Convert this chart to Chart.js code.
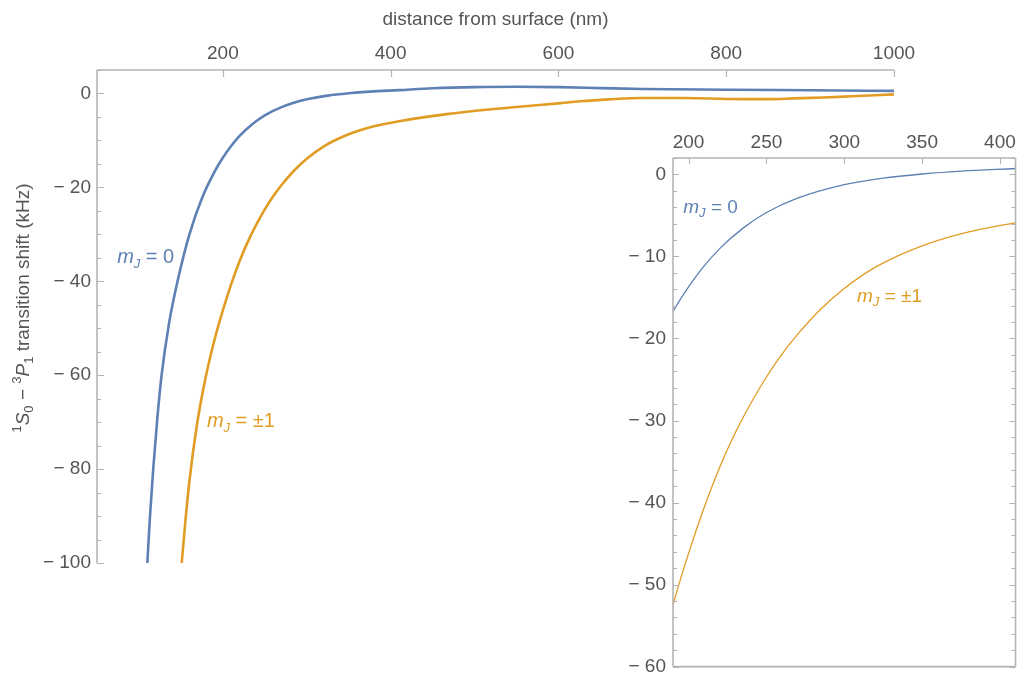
<!DOCTYPE html>
<html>
<head>
<meta charset="utf-8">
<script src="https://cdn.jsdelivr.net/npm/chart.js@4.4.1/dist/chart.umd.min.js"></script>
<style>
  html, body { margin: 0; padding: 0; background: #fff; }
  #wrap { position: relative; width: 1020px; height: 685px; overflow: hidden; }
  #main { position: absolute; left: 0; top: 0; }
  #inset { position: absolute; left: 600px; top: 110px; }
</style>
</head>
<body>
<div id="wrap">
  <canvas id="main" width="1020" height="685"></canvas>
  <canvas id="inset" width="420" height="575"></canvas>
</div>
<script>
// distance from surface (nm) and transition shift (kHz)
const distM0 = [110, 113, 117, 122, 127, 136, 146, 160, 175, 190, 200, 209, 220, 235, 250, 270, 300, 325, 350, 375, 410, 450, 500, 550, 600, 650, 700, 800, 900, 1000];
const shiftM0 = [-100, -90.5, -80, -69, -60, -48.8, -40, -30.1, -22.35, -16.7, -13.7, -11.4, -9.05, -6.55, -4.65, -2.9, -1.25, -0.45, 0.05, 0.4, 0.72, 1.1, 1.35, 1.42, 1.35, 1.15, 0.95, 0.8, 0.68, 0.55];

const distM1 = [151, 155, 160, 169, 179, 190, 200, 210, 220, 230, 240, 250, 260, 270, 285, 300, 320, 350, 380, 410, 467, 543, 600, 626, 660, 700, 750, 780, 820, 850, 880, 916, 950, 1000];
const shiftM1 = [-100, -91.8, -82.8, -70.7, -60.9, -52.5, -46.2, -40.6, -35.7, -31.5, -27.9, -24.7, -21.9, -19.5, -16.4, -13.9, -11.3, -8.7, -7.0, -5.9, -4.4, -3.0, -2.1, -1.65, -1.25, -0.95, -0.95, -1.07, -1.2, -1.2, -1.05, -0.86, -0.6, -0.2];

const mainXTicks = [200, 400, 600, 800, 1000];
const mainYTicks = [0, -20, -40, -60, -80, -100];
const insetXTicks = [200, 250, 300, 350, 400];
const insetYTicks = [0, -10, -20, -30, -40, -50, -60];

const BLUE = '#5E81B5';
const ORANGE = '#E19C24';
const TEXT = '#555555';
const AXIS = '#b4b4b4';
const FAMILY = "'Liberation Sans', Arial, sans-serif";

Chart.defaults.font.family = FAMILY;

const toPoints = (xs, ys) => xs.map((x, i) => ({ x: x, y: ys[i] }));
const fmt = v => (v < 0 ? '\u2212 ' + Math.abs(v) : String(v));

// axis lines + inward tick marks, Mathematica style
const frameAndTicks = {
  id: 'frameAndTicks',
  afterDraw(chart, args, o) {
    const { ctx, chartArea: a, scales } = chart;
    const sx = scales.x, sy = scales.y;
    ctx.save();
    ctx.strokeStyle = o.color;
    ctx.lineWidth = o.lineWidth;
    ctx.beginPath();
    if (o.sides.includes('top')) { ctx.moveTo(a.left, a.top); ctx.lineTo(a.right, a.top); }
    if (o.sides.includes('bottom')) { ctx.moveTo(a.left, a.bottom); ctx.lineTo(a.right, a.bottom); }
    if (o.sides.includes('left')) { ctx.moveTo(a.left, a.top); ctx.lineTo(a.left, a.bottom); }
    if (o.sides.includes('right')) { ctx.moveTo(a.right, a.top); ctx.lineTo(a.right, a.bottom); }
    ctx.stroke();

    ctx.lineWidth = o.tickWidth;
    ctx.beginPath();
    const xMarks = (vals, len) => vals.forEach(v => {
      const px = Math.round(sx.getPixelForValue(v)) + 0.5;
      o.xSides.forEach(side => {
        const y0 = side === 'top' ? a.top : a.bottom;
        const d = side === 'top' ? len : -len;
        ctx.moveTo(px, y0); ctx.lineTo(px, y0 + d);
      });
    });
    const yMarks = (vals, len) => vals.forEach(v => {
      const py = Math.round(sy.getPixelForValue(v)) + 0.5;
      o.ySides.forEach(side => {
        const x0 = side === 'left' ? a.left : a.right;
        const d = side === 'left' ? len : -len;
        ctx.moveTo(x0, py); ctx.lineTo(x0 + d, py);
      });
    });
    const minors = (scale, step, majors) => {
      const out = [];
      if (!step) return out;
      for (let v = Math.ceil(scale.min / step) * step; v <= scale.max + 1e-9; v += step) {
        if (!majors.some(m => Math.abs(m - v) < 1e-9)) out.push(v);
      }
      return out;
    };
    xMarks(o.xMajor, o.majorLen);
    xMarks(minors(sx, o.xMinorStep, o.xMajor), o.minorLen);
    yMarks(o.yMajor, o.majorLen);
    yMarks(minors(sy, o.yMinorStep, o.yMajor), o.minorLen);
    ctx.stroke();
    ctx.restore();
  }
};

// m_J curve labels
const curveLabels = {
  id: 'curveLabels',
  afterDatasetsDraw(chart, args, o) {
    const { ctx, scales: { x, y } } = chart;
    const fs = o.size;
    ctx.save();
    ctx.textAlign = 'left';
    ctx.textBaseline = 'alphabetic';
    o.items.forEach(it => {
      let px = x.getPixelForValue(it.x);
      const py = y.getPixelForValue(it.y);
      ctx.fillStyle = it.color;
      ctx.font = `italic ${fs}px ${FAMILY}`;
      ctx.fillText('m', px, py);
      px += ctx.measureText('m').width;
      ctx.font = `italic ${Math.round(fs * 0.66)}px ${FAMILY}`;
      ctx.fillText('J', px, py + fs * 0.22);
      px += ctx.measureText('J').width;
      ctx.font = `${fs}px ${FAMILY}`;
      ctx.fillText(' = ' + it.value, px, py);
    });
    ctx.restore();
  }
};

// rotated y title with super/subscripts
const yTitle = {
  id: 'yTitle',
  afterDraw(chart, args, o) {
    const { ctx } = chart;
    const fs = o.size, small = Math.round(fs * 0.66);
    const fontFor = s => `${s.italic ? 'italic ' : ''}${(s.sup || s.sub) ? small : fs}px ${FAMILY}`;
    ctx.save();
    let total = 0;
    o.segments.forEach(s => { ctx.font = fontFor(s); s.w = ctx.measureText(s.text).width; total += s.w; });
    ctx.translate(o.x, o.y);
    ctx.rotate(-Math.PI / 2);
    ctx.fillStyle = o.color;
    ctx.textAlign = 'left';
    ctx.textBaseline = 'alphabetic';
    let cx = -total / 2;
    const base = fs * 0.36;
    o.segments.forEach(s => {
      ctx.font = fontFor(s);
      const dy = s.sup ? -fs * 0.42 : (s.sub ? fs * 0.2 : 0);
      ctx.fillText(s.text, cx, base + dy);
      cx += s.w;
    });
    ctx.restore();
  }
};

const tickFont = { size: 19 };

function fixedTicks(list) {
  return s => { s.ticks = list.map(v => ({ value: v })); };
}

// main plot
new Chart(document.getElementById('main'), {
  type: 'scatter',
  data: {
    datasets: [
      { data: toPoints(distM0, shiftM0), borderColor: BLUE, borderWidth: 2.6, showLine: true, pointRadius: 0, cubicInterpolationMode: 'monotone' },
      { data: toPoints(distM1, shiftM1), borderColor: ORANGE, borderWidth: 2.6, showLine: true, pointRadius: 0, cubicInterpolationMode: 'monotone' }
    ]
  },
  options: {
    responsive: false,
    animation: false,
    events: [],
    layout: { padding: { left: 0, top: 0, right: 126, bottom: 122 } },
    plugins: {
      legend: { display: false },
      tooltip: { enabled: false },
      frameAndTicks: {
        sides: ['top', 'left'], color: AXIS, lineWidth: 1.6, tickWidth: 1.2,
        xSides: ['top'], ySides: ['left'], xMajor: mainXTicks, yMajor: mainYTicks,
        xMinorStep: 0, yMinorStep: 5, majorLen: 7, minorLen: 4
      },
      curveLabels: {
        size: 20,
        items: [
          { x: 74, y: -36.2, value: '0', color: BLUE },
          { x: 181, y: -71.1, value: '\u00b11', color: ORANGE }
        ]
      },
      yTitle: {
        x: 22, y: 308, size: 19, color: TEXT,
        segments: [
          { text: '1', sup: true }, { text: 'S', italic: true }, { text: '0', sub: true },
          { text: ' \u2212 ' },
          { text: '3', sup: true }, { text: 'P', italic: true }, { text: '1', sub: true },
          { text: ' transition shift (kHz)' }
        ]
      }
    },
    scales: {
      x: {
        type: 'linear', position: 'top', min: 50, max: 1000,
        afterFit: s => { s.height = 70; },
        afterBuildTicks: fixedTicks(mainXTicks),
        grid: { display: false, drawTicks: false },
        border: { display: false },
        ticks: { color: TEXT, font: tickFont, padding: 5, maxRotation: 0, callback: v => String(v) },
        title: { display: true, text: 'distance from surface (nm)', color: TEXT, font: { size: 19 }, padding: { top: 8, bottom: 0 } }
      },
      y: {
        type: 'linear', position: 'left', min: -100, max: 5,
        afterFit: s => { s.width = 97; },
        afterBuildTicks: fixedTicks(mainYTicks),
        grid: { display: false, drawTicks: false },
        border: { display: false },
        ticks: { color: TEXT, font: tickFont, padding: 6, callback: fmt }
      }
    }
  },
  plugins: [frameAndTicks, curveLabels, yTitle]
});

// inset: zoom on 190-410 nm
new Chart(document.getElementById('inset'), {
  type: 'scatter',
  data: {
    datasets: [
      { data: toPoints(distM0, shiftM0), borderColor: BLUE, borderWidth: 1.3, showLine: true, pointRadius: 0, cubicInterpolationMode: 'monotone' },
      { data: toPoints(distM1, shiftM1), borderColor: ORANGE, borderWidth: 1.3, showLine: true, pointRadius: 0, cubicInterpolationMode: 'monotone' }
    ]
  },
  options: {
    responsive: false,
    animation: false,
    events: [],
    layout: { padding: { left: 0, top: 0, right: 4, bottom: 8 } },
    plugins: {
      legend: { display: false },
      tooltip: { enabled: false },
      frameAndTicks: {
        sides: ['top', 'left', 'right', 'bottom'], color: AXIS, lineWidth: 1.6, tickWidth: 1.1,
        xSides: ['top'], ySides: ['left', 'right'], xMajor: insetXTicks, yMajor: insetYTicks,
        xMinorStep: 0, yMinorStep: 2, majorLen: 6, minorLen: 4
      },
      curveLabels: {
        size: 19,
        items: [
          { x: 196.6, y: -4.7, value: '0', color: BLUE },
          { x: 308.2, y: -15.5, value: '\u00b11', color: ORANGE }
        ]
      }
    },
    scales: {
      x: {
        type: 'linear', position: 'top', min: 190, max: 410,
        afterFit: s => { s.height = 48; },
        afterBuildTicks: fixedTicks(insetXTicks),
        grid: { display: false, drawTicks: false },
        border: { display: false },
        ticks: { color: TEXT, font: tickFont, padding: 4, maxRotation: 0 }
      },
      y: {
        type: 'linear', position: 'left', min: -60, max: 2,
        afterFit: s => { s.width = 73; },
        afterBuildTicks: fixedTicks(insetYTicks),
        grid: { display: false, drawTicks: false },
        border: { display: false },
        ticks: { color: TEXT, font: tickFont, padding: 7, callback: fmt }
      }
    }
  },
  plugins: [frameAndTicks, curveLabels]
});
</script>
</body>
</html>
